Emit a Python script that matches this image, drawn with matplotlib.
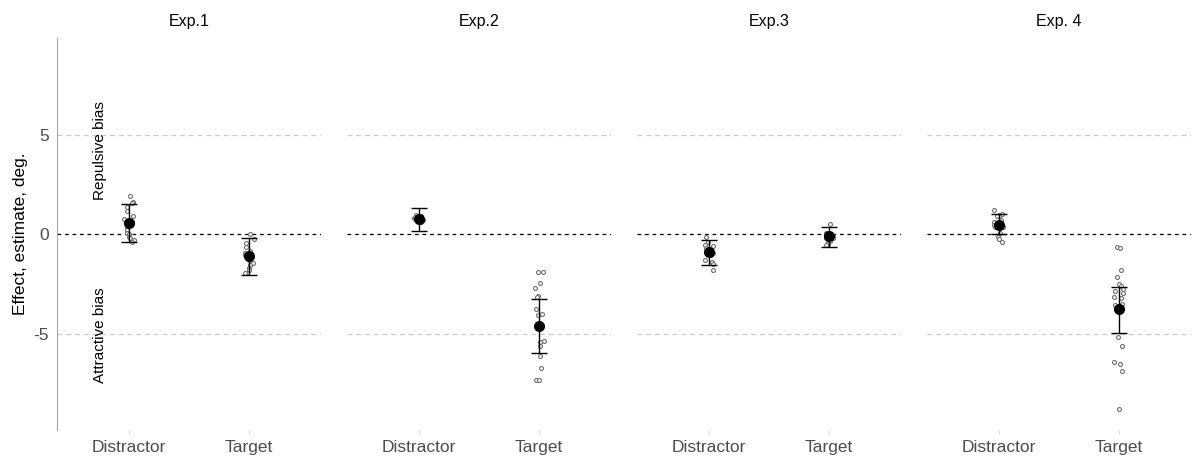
import matplotlib
matplotlib.use("Agg")
import matplotlib.pyplot as plt
import numpy as np

plt.rcParams["font.family"] = ["Liberation Sans", "DejaVu Sans"]

# ─── Data ─────────────────────────────────────────────────────────────────────
panel_titles = ["Exp.1", "Exp.2", "Exp.3", "Exp. 4"]
conditions = ["Distractor", "Target"]

# group means and error bar limits (lo, hi), per panel: [distractor, target]
means = [[0.54, -1.10], [0.74, -4.60], [-0.92, -0.10], [0.45, -3.77]]
err_lo = [[-0.42, -2.06], [0.17, -6.00], [-1.57, -0.64], [-0.02, -4.99]]
err_hi = [[1.49, -0.18], [1.32, -3.27], [-0.30, 0.37], [1.00, -2.65]]

# individual participant estimates
exp1_dist = [1.92, 1.62, 1.57, 1.37, 1.16, 0.92, 0.75, 0.62, 0.55, 0.45, 0.30,
             0.20, 0.03, -0.02, -0.13, -0.22, -0.30, -0.38]
exp1_targ = [0.00, -0.27, -0.43, -0.64, -0.85, -0.97, -1.05, -1.19, -1.31,
             -1.44, -1.56, -1.69, -1.81, -1.94, -1.95]
exp2_dist = [0.95, 0.90, 0.85, 0.82, 0.80, 0.78, 0.75, 0.72, 0.70, 0.68,
             0.65, 0.62, 0.60, 0.85, 0.78, 0.72]
exp2_targ = [-1.93, -1.93, -2.45, -2.70, -3.10, -3.15, -3.77, -4.02, -4.05,
             -5.36, -5.40, -5.63, -6.13, -6.72, -7.32, -7.35]
exp3_dist = [-0.17, -0.38, -0.55, -0.62, -0.72, -0.78, -0.85, -0.97, -1.05,
             -1.31, -1.39, -1.51, -1.81]
exp3_targ = [0.50, 0.05, -0.02, -0.08, -0.12, -0.18, -0.22, -0.28, -0.35,
             -0.42, -0.50, -0.55]
exp4_dist = [1.20, 1.02, 0.98, 0.93, 0.90, 0.72, 0.62, 0.52, 0.45, 0.38,
             0.35, 0.03, -0.13, -0.27, -0.38]
exp4_targ = [-0.67, -0.70, -1.81, -2.18, -2.53, -2.60, -2.76, -2.85, -2.98,
             -3.15, -3.20, -3.53, -3.55, -5.18, -5.61, -6.43, -6.55, -6.88,
             -8.81]
points = [[exp1_dist, exp1_targ], [exp2_dist, exp2_targ],
          [exp3_dist, exp3_targ], [exp4_dist, exp4_targ]]

y_ticks = [-5, 0, 5]

# ─── Figure ───────────────────────────────────────────────────────────────────
fig, axes = plt.subplots(1, 4, figsize=(11.92, 4.59), dpi=100, sharey=True)
fig.subplots_adjust(left=0.048, right=0.999, bottom=0.063, top=0.917,
                    wspace=0.098)

rng = np.random.default_rng(7)
grey_txt = "#4d4d4d"

for i, ax in enumerate(axes):
    ax.set_xlim(0.4, 2.6)
    ax.set_ylim(-9.85, 9.85)

    for yv in (-5, 5):
        ax.axhline(yv, color="#cccccc", lw=0.9, ls=(0, (4, 3)), zorder=0)
    ax.axhline(0, color="black", lw=0.9, ls=(0, (3, 3)), zorder=1)

    for j in range(2):
        x0 = j + 1
        vals = np.array(points[i][j])
        jit = rng.uniform(-0.04, 0.04, size=len(vals))
        ax.scatter(x0 + jit, vals, s=8, facecolors="white",
                   edgecolors="#6f6f6f", linewidths=0.8, zorder=2)
        lo, hi, m = err_lo[i][j], err_hi[i][j], means[i][j]
        ax.errorbar([x0], [m], yerr=[[m - lo], [hi - m]], fmt="none",
                    ecolor="black", elinewidth=1.0, capsize=6, capthick=1.0,
                    zorder=3)
        ax.plot([x0], [m], "o", color="black", markersize=7, zorder=4)

    ax.set_xticks([1, 2])
    ax.set_xticklabels(conditions, fontsize=12.5, color=grey_txt)
    ax.tick_params(axis="x", length=3, color="#d9d9d9", pad=4)
    ax.set_title(panel_titles[i], fontsize=11.5, pad=9)

    for side in ["top", "right", "bottom", "left"]:
        ax.spines[side].set_visible(False)

    if i == 0:
        ax.spines["left"].set_visible(True)
        ax.spines["left"].set_color("#a6a6a6")
        ax.set_yticks(y_ticks)
        ax.set_yticklabels([str(t) for t in y_ticks], fontsize=12.5,
                           color=grey_txt)
        ax.tick_params(axis="y", length=0, pad=6)
        ax.set_ylabel("Effect, estimate, deg.", fontsize=12.5, labelpad=4)
        ax.text(0.76, 4.2, "Repulsive bias", rotation=90, fontsize=11,
                ha="center", va="center")
        ax.text(0.76, -5.1, "Attractive bias", rotation=90, fontsize=11,
                ha="center", va="center")
    else:
        ax.tick_params(axis="y", left=False, labelleft=False)

fig.savefig("out.png", dpi=100)
